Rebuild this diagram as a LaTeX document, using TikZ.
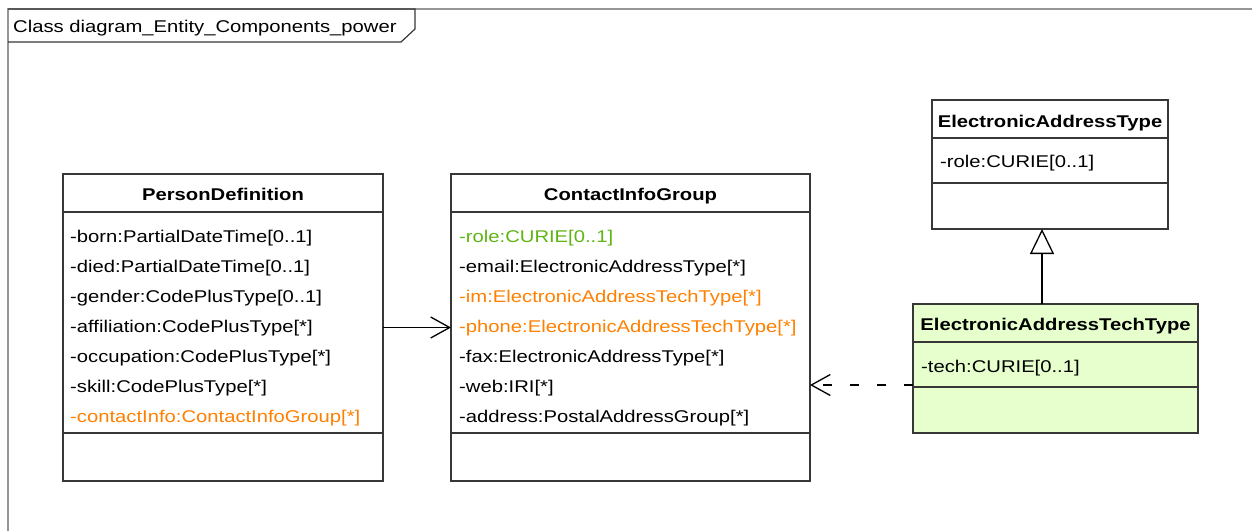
\documentclass[tikz,border=0pt]{standalone}
\usepackage{fontspec}
\setmainfont{Liberation Sans}[FakeStretch=1.19]
\usetikzlibrary{arrows.meta}

\definecolor{umlline}{RGB}{55,55,55}
\definecolor{framegray}{RGB}{150,150,150}
\definecolor{attrorange}{RGB}{255,128,0}
\definecolor{attrgreen}{RGB}{95,180,20}
\definecolor{techfill}{RGB}{230,255,204}

\tikzset{
  classbox/.style={draw=umlline, line width=1.5pt, inner sep=0pt, outer sep=0pt, anchor=north west},
  sepline/.style={draw=umlline, line width=1.3pt},
  umltext/.style={inner sep=0pt, font=\fontsize{17}{20}\selectfont},
  attr/.style={umltext, anchor=base west},
  hdr/.style={umltext, anchor=base, font=\fontsize{17}{20}\selectfont\bfseries},
  assoc/.style={draw=black, line width=1.3pt, -{Straight Barb[length=19pt,width=21pt,line width=1.3pt]}},
  depend/.style={draw=black, line width=1.3pt, dash pattern=on 9pt off 18pt, -{Straight Barb[length=19pt,width=21pt,line width=1.3pt]}},
  generalize/.style={draw=black, line width=1.3pt, -{Triangle[open,length=25pt,width=24pt,line width=1.3pt]}},
}

\begin{document}
\begin{tikzpicture}[x=1pt,y=-1pt]
\useasboundingbox (0,0) rectangle (1252,531);

% diagram frame and its name tab
\draw[framegray, line width=1.5pt] (1252,9) -- (8,9) -- (8,531);
\draw[umlline, line width=1.2pt] (8,9) -- (415,9) -- (415,29) -- (401,42) -- (8,42);
\node[attr] (title) at (13,32) {Class diagram\_Entity\_Components\_power};

% PersonDefinition
\node[classbox, minimum width=320pt, minimum height=307pt] (pd) at (63,174) {};
\draw[sepline] (63,212) -- (383,212);
\draw[sepline] (63,433) -- (383,433);
\node[hdr] (pd-name) at (223,200) {PersonDefinition};
\node[attr] (pd-a1) at (70,242) {-born:PartialDateTime[0..1]};
\node[attr] (pd-a2) at (70,272) {-died:PartialDateTime[0..1]};
\node[attr] (pd-a3) at (70,302) {-gender:CodePlusType[0..1]};
\node[attr] (pd-a4) at (70,332) {-affiliation:CodePlusType[*]};
\node[attr] (pd-a5) at (70,362) {-occupation:CodePlusType[*]};
\node[attr] (pd-a6) at (70,392) {-skill:CodePlusType[*]};
\node[attr, text=attrorange] (pd-a7) at (70,422) {-contactInfo:ContactInfoGroup[*]};

% ContactInfoGroup
\node[classbox, minimum width=359pt, minimum height=307pt] (cig) at (451,174) {};
\draw[sepline] (451,212) -- (810,212);
\draw[sepline] (451,433) -- (810,433);
\node[hdr] (cig-name) at (630.5,200) {ContactInfoGroup};
\node[attr, text=attrgreen] (cig-a1) at (459,242) {-role:CURIE[0..1]};
\node[attr] (cig-a2) at (459,272) {-email:ElectronicAddressType[*]};
\node[attr, text=attrorange] (cig-a3) at (459,302) {-im:ElectronicAddressTechType[*]};
\node[attr, text=attrorange] (cig-a4) at (459,332) {-phone:ElectronicAddressTechType[*]};
\node[attr] (cig-a5) at (459,362) {-fax:ElectronicAddressType[*]};
\node[attr] (cig-a6) at (459,392) {-web:IRI[*]};
\node[attr] (cig-a7) at (459,422) {-address:PostalAddressGroup[*]};

% ElectronicAddressType
\node[classbox, minimum width=236pt, minimum height=129pt] (eat) at (932,100) {};
\draw[sepline] (932,138) -- (1168,138);
\draw[sepline] (932,183) -- (1168,183);
\node[hdr] (eat-name) at (1050,127) {ElectronicAddressType};
\node[attr] (eat-a1) at (940,167) {-role:CURIE[0..1]};

% ElectronicAddressTechType
\node[classbox, fill=techfill, minimum width=285pt, minimum height=129pt] (eatt) at (913,304) {};
\draw[sepline] (913,342) -- (1198,342);
\draw[sepline] (913,387) -- (1198,387);
\node[hdr] (eatt-name) at (1055.5,330) {ElectronicAddressTechType};
\node[attr] (eatt-a1) at (921,372) {-tech:CURIE[0..1]};

% relations
\coordinate (depy) at (0,385);
\coordinate (genx) at (1042,0);
\draw[assoc] (pd.east) -- (cig.west);
\draw[depend] (eatt.west |- depy) -- (cig.east |- depy);
\draw[generalize] (eatt.north -| genx) -- (eat.south -| genx);
\end{tikzpicture}
\end{document}
